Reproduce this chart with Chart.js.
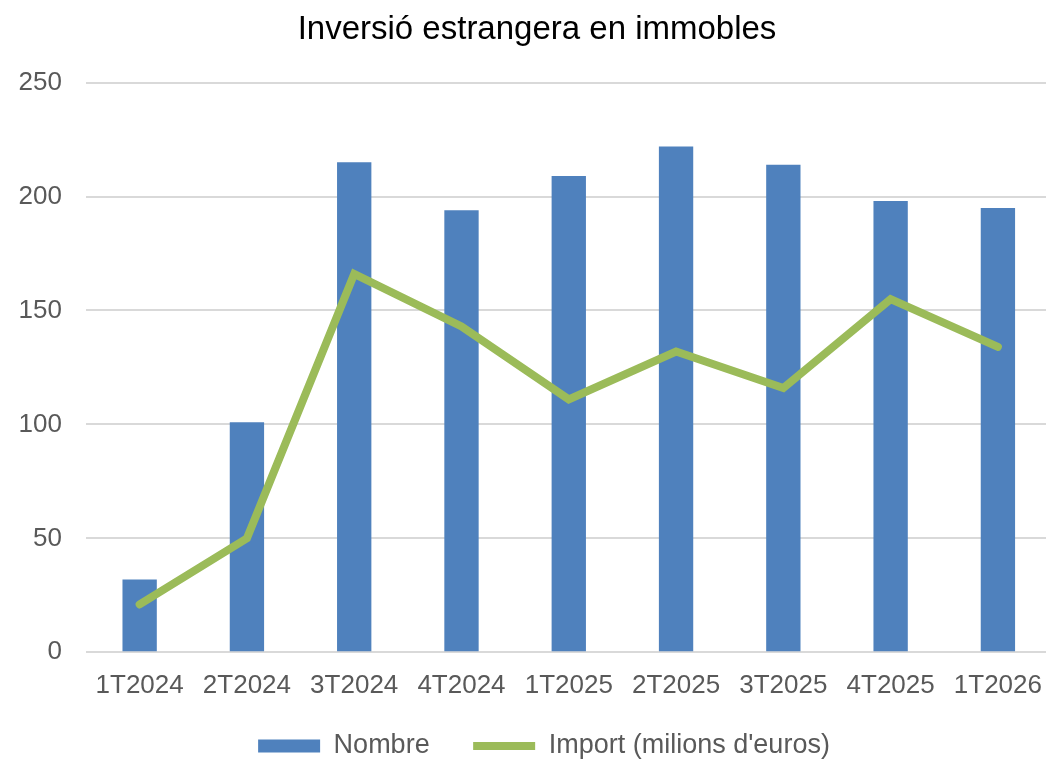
<!DOCTYPE html>
<html>
<head>
<meta charset="utf-8">
<script src="https://cdn.jsdelivr.net/npm/chart.js@4/dist/chart.umd.min.js"></script>
<style>
  html, body { margin: 0; padding: 0; background: #ffffff; overflow: hidden; }
  #wrap { width: 1046px; height: 762px; overflow: hidden; }
</style>
</head>
<body>
<div id="wrap"><canvas id="inversioChart" width="1052" height="762"></canvas></div>
<script>
const quarters = ['1T2024', '2T2024', '3T2024', '4T2024', '1T2025', '2T2025', '3T2025', '4T2025', '1T2026'];
const nombre = [32, 101, 215, 194, 209, 222, 214, 198, 195];
const importMilions = [21, 50, 166, 143, 111, 132, 116, 155, 134];
const yTicks = [0, 50, 100, 150, 200, 250];

const fontFamily = '"Liberation Sans", Arial, sans-serif';

// move the legend a bit to the right, like in the original
const legendShift = {
  id: 'legendShift',
  afterLayout(chart) {
    chart.legend.left += 7;
    chart.legend.right += 7;
  }
};

let ctx = document.getElementById('inversioChart').getContext('2d');

const inversioChart = new Chart(ctx,
  {
    type: 'bar',
    data:
    {
      labels: quarters,
      datasets:
        [{
          label: 'Nombre',
          data: nombre,
          backgroundColor: '#4f81bd',
          borderWidth: 0,
          barPercentage: 0.32,
          categoryPercentage: 1,
          pointStyle: 'rect',
          order: 2
        },
        {
          type: 'line',
          label: "Import (milions d'euros)",
          data: importMilions,
          borderColor: '#9bbb59',
          backgroundColor: '#9bbb59',
          borderWidth: 8,
          borderCapStyle: 'round',
          pointRadius: 0,
          pointHoverRadius: 0,
          pointStyle: 'line',
          tension: 0,
          order: 1
        }]
    },
    options:
    {
      responsive: false,
      animation: false,
      layout:
      {
        autoPadding: false,
        padding: { left: 16, right: -6, top: 0, bottom: -7.5 }
      },
      scales:
      {
        x:
        {
          grid: { display: false },
          border: { display: false },
          ticks:
          {
            color: '#595959',
            font: { family: fontFamily, size: 26 },
            padding: 10,
            autoSkip: false,
            maxRotation: 0,
            minRotation: 0
          }
        },
        y:
        {
          min: 0,
          max: 250,
          afterFit: (scale) => { scale.width = 70; },
          afterBuildTicks: (scale) => { scale.ticks = yTicks.map(v => ({ value: v })); },
          grid:
          {
            color: '#d9d9d9',
            lineWidth: 2,
            drawTicks: false
          },
          border: { display: false },
          ticks:
          {
            color: '#595959',
            font: { family: fontFamily, size: 26 },
            padding: 24
          }
        }
      },
      plugins:
      {
        title:
        {
          display: true,
          text: 'Inversió estrangera en immobles',
          color: '#000000',
          font: { family: fontFamily, size: 33, weight: 'normal' },
          padding: { top: 10, bottom: 33 }
        },
        legend:
        {
          position: 'bottom',
          labels:
          {
            usePointStyle: true,
            pointStyleWidth: 62,
            boxHeight: 13,
            padding: 21,
            color: '#595959',
            font: { family: fontFamily, size: 27 },
            generateLabels: (chart) => Chart.defaults.plugins.legend.labels.generateLabels(chart).map(item => {
              if (item.datasetIndex === 0) item.text = item.text + '   ';
              return item;
            }),
            sort: (a, b) => a.datasetIndex - b.datasetIndex
          }
        },
        tooltip: { enabled: false }
      }
    },
    plugins: [legendShift]
  });
</script>
</body>
</html>
